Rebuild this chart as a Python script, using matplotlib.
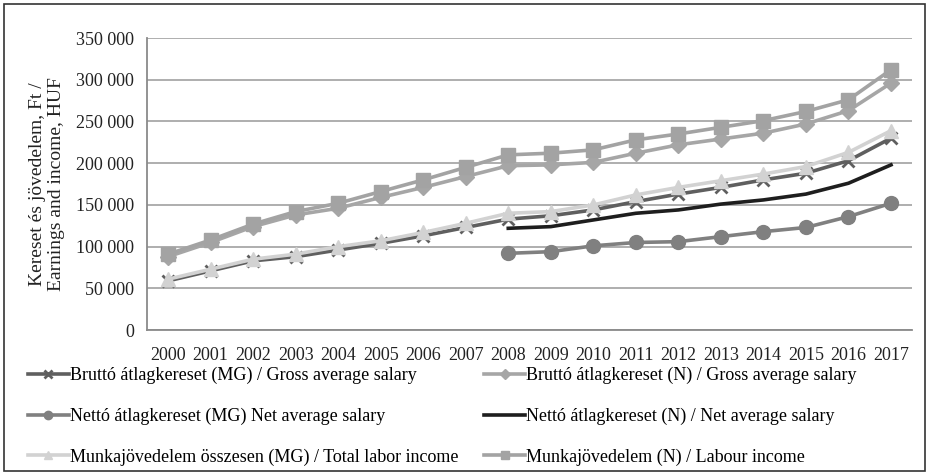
import matplotlib.pyplot as plt
import numpy as np
from matplotlib.patches import Rectangle

years = [str(y) for y in range(2000, 2018)]

brutto_mg = [59000, 71000, 83000, 88000, 96000, 104000, 113000, 123000, 133000,
             137000, 144000, 154000, 163000, 171000, 180000, 188000, 203000, 230000]
brutto_n = [88000, 105000, 124000, 138000, 146000, 159000, 171000, 184000, 197000,
            198000, 201000, 212000, 222000, 229000, 236000, 247000, 263000, 296000]
netto_mg = [None] * 8 + [92000, 94000, 101000, 105000, 106000, 112000, 118000,
                         123000, 136000, 152000]
netto_n = [None] * 8 + [122000, 124000, 132000, 140000, 144000, 151000, 156000,
                        163000, 176000, 198000]
munka_mg = [61000, 73000, 85000, 91000, 100000, 107000, 117000, 128000, 140000,
            142000, 150000, 162000, 171000, 179000, 187000, 196000, 213000, 239000]
munka_n = [91000, 108000, 127000, 142000, 152000, 166000, 180000, 195000, 210000,
           212000, 216000, 228000, 235000, 243000, 251000, 262000, 276000, 312000]

labels = [
    'Bruttó átlagkereset (MG) / Gross average salary',
    'Bruttó átlagkereset (N) / Gross average salary',
    'Nettó átlagkereset (MG) Net average salary',
    'Nettó átlagkereset (N) / Net average salary',
    'Munkajövedelem összesen (MG) / Total labor income',
    'Munkajövedelem (N) / Labour income',
]

plt.rcParams['font.family'] = ['Liberation Serif', 'DejaVu Serif']

fig = plt.figure(figsize=(9.29, 4.75), dpi=100)
ax = fig.add_axes([0.158, 0.305, 0.824, 0.615])

x = np.arange(len(years))


def series(vals):
    return np.array([np.nan if v is None else v for v in vals], dtype=float)


lw = 2.6
h1, = ax.plot(x, series(brutto_mg), color='#5f5f5f', lw=lw, marker='x', ms=9, mew=2, zorder=3)
h2, = ax.plot(x, series(brutto_n), color='#a6a6a6', lw=lw, marker='D', ms=8, zorder=4)
h3, = ax.plot(x, series(netto_mg), color='#808080', lw=lw, marker='o', ms=10, zorder=3)
h4, = ax.plot(x, series(netto_n), color='#1e1e1e', lw=lw, zorder=3)
h5, = ax.plot(x, series(munka_mg), color='#d2d2d2', lw=lw, marker='^', ms=10, zorder=4)
h6, = ax.plot(x, series(munka_n), color='#a3a3a3', lw=lw, marker='s', ms=10, zorder=5)

ax.set_xlim(-0.5, len(years) - 0.5)
ax.set_ylim(0, 350000)
ax.set_yticks(np.arange(0, 350001, 50000))
ax.set_yticklabels(['{:,}'.format(v).replace(',', ' ') for v in range(0, 350001, 50000)])
ax.set_xticks(x)
ax.set_xticklabels(years)
ax.tick_params(length=0, labelsize=13, colors='#222222')
ax.tick_params(axis='x', pad=12)
ax.tick_params(axis='y', pad=9)
ax.grid(axis='y', color='#a8a8a8', lw=1.3)
ax.set_axisbelow(True)
for side in ['top', 'right']:
    ax.spines[side].set_visible(False)
ax.spines['left'].set_color('#8a8a8a')
ax.spines['bottom'].set_color('#8a8a8a')
ax.spines['left'].set_linewidth(1.3)
ax.spines['bottom'].set_linewidth(1.3)

ax.set_ylabel('Kereset és jövedelem, Ft /\nEarnings and income, HUF', fontsize=14,
              color='#222222', labelpad=8, linespacing=1.15)

# legend is filled column by column, so reorder to get row-wise pairs
order = [0, 2, 4, 1, 3, 5]
handles = [h1, h2, h3, h4, h5, h6]
fig.legend([handles[i] for i in order], [labels[i] for i in order], ncol=2,
           loc='upper left', bbox_to_anchor=(0.022, 0.243), frameon=False,
           fontsize=13, handlelength=2.3, handletextpad=0.05, columnspacing=1.4,
           labelspacing=1.3, markerscale=0.6, borderaxespad=0)

fig.patches.append(Rectangle((0.004, 0.008), 0.992, 0.984, transform=fig.transFigure,
                             fill=False, edgecolor='#333333', lw=1.2))

fig.savefig('out.png', dpi=100)
